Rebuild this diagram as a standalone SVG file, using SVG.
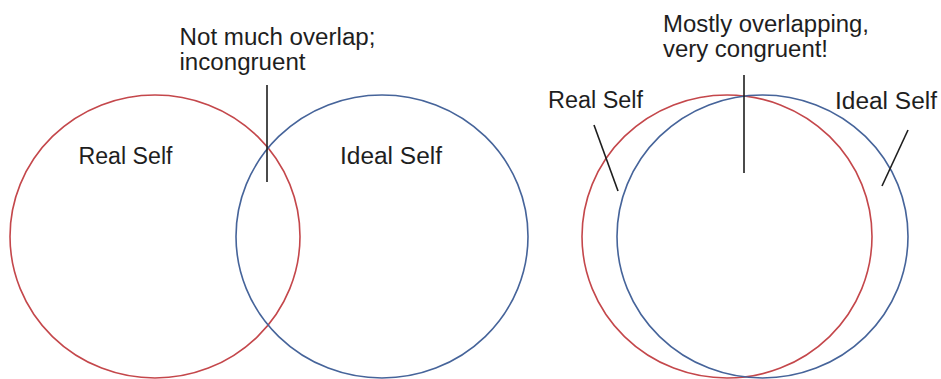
<svg xmlns="http://www.w3.org/2000/svg" width="941" height="379" viewBox="0 0 941 379">
<style>
.bg{fill:#ffffff}
.real{fill:none;stroke:#c4474b;stroke-width:1.6}
.ideal{fill:none;stroke:#46649a;stroke-width:1.6}
.lbl{font-family:"Liberation Sans",Arial,sans-serif;font-size:23px;fill:#1e1e1e}
.con{stroke:#1e1e1e;stroke-width:1.6;fill:none}
</style>
<rect class="bg" x="0" y="0" width="941" height="379"/>
<g id="left-real">
<ellipse class="real" cx="155" cy="236.5" rx="145" ry="141.5"/>
<text class="lbl" x="78.5" y="164" textLength="94" lengthAdjust="spacingAndGlyphs">Real Self</text>
</g>
<g id="left-ideal">
<ellipse class="ideal" cx="382" cy="236.5" rx="146" ry="141.5"/>
<text class="lbl" x="340" y="164" textLength="102" lengthAdjust="spacingAndGlyphs">Ideal Self</text>
</g>
<g id="left-note">
<text class="lbl" x="179.5" y="45" textLength="196" lengthAdjust="spacingAndGlyphs">Not much overlap;</text>
<text class="lbl" x="179.5" y="70" textLength="126" lengthAdjust="spacingAndGlyphs">incongruent</text>
</g>
<g id="right-real">
<ellipse class="real" cx="727" cy="236.5" rx="145" ry="141.5"/>
<text class="lbl" x="548" y="108" textLength="95" lengthAdjust="spacingAndGlyphs">Real Self</text>
</g>
<g id="right-ideal">
<ellipse class="ideal" cx="762.5" cy="236.5" rx="145.5" ry="141.5"/>
<text class="lbl" x="835" y="109" textLength="102" lengthAdjust="spacingAndGlyphs">Ideal Self</text>
</g>
<g id="right-note">
<text class="lbl" x="663" y="32" textLength="206" lengthAdjust="spacingAndGlyphs">Mostly overlapping,</text>
<text class="lbl" x="663" y="57" textLength="165" lengthAdjust="spacingAndGlyphs">very congruent!</text>
</g>
<g id="connectors">
<line class="con" x1="267" y1="85" x2="267" y2="182"/>
<line class="con" x1="744" y1="75" x2="744" y2="173"/>
<line class="con" x1="594" y1="125" x2="618" y2="191"/>
<line class="con" x1="908" y1="130" x2="882" y2="186"/>
</g>
</svg>
